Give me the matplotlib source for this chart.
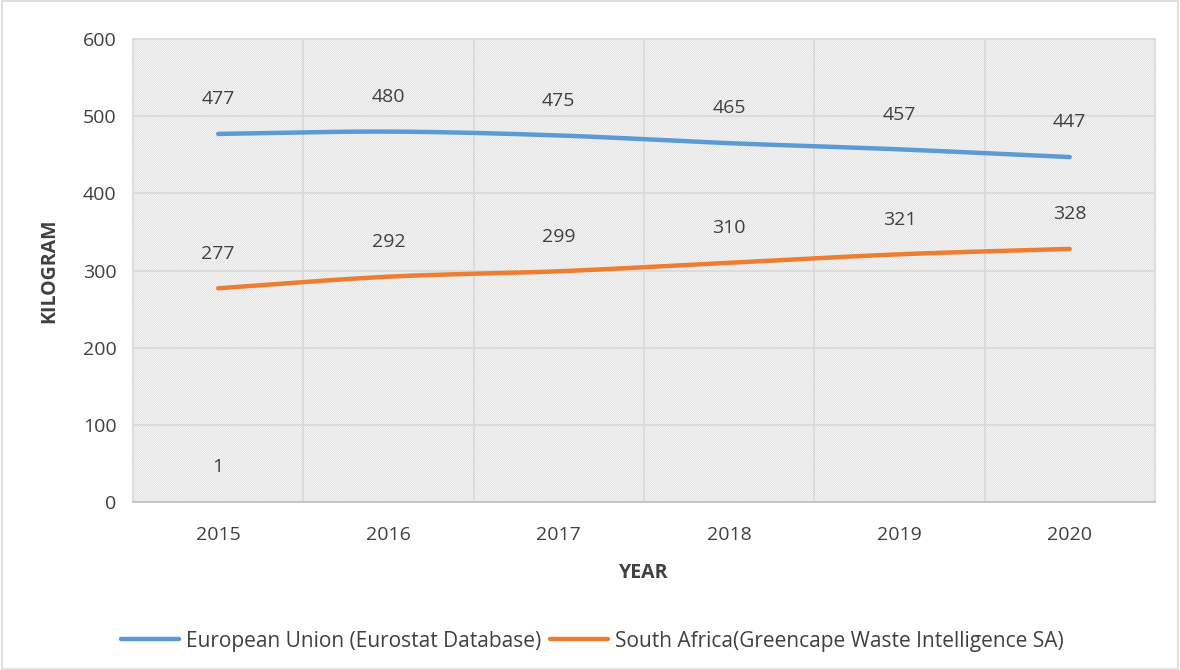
import numpy as np
import matplotlib
matplotlib.use("Agg")
import matplotlib.pyplot as plt
from matplotlib.patches import Rectangle
from matplotlib.lines import Line2D

years = ["2015", "2016", "2017", "2018", "2019", "2020"]
eu_kg = [477, 480, 475, 465, 457, 447]
sa_kg = [277, 292, 299, 310, 321, 328]
# stray data label left in the first column of the source sheet
extra_kg = [1]

eu_name = "European Union (Eurostat Database)"
sa_name = "South Africa(Greencape Waste Intelligence SA)"

plt.rcParams["font.family"] = ["Open Sans", "DejaVu Sans"]
plt.rcParams["hatch.linewidth"] = 0.6
plt.rcParams["hatch.color"] = "#dcdcdc"
txt = "#404040"
grid = "#d9d9d9"


def smooth(y, steps=30):
    # catmull-rom through the points, like a spreadsheet "smoothed line"
    y = np.asarray(y, dtype=float)
    x = np.arange(len(y), dtype=float)
    p = np.concatenate([[2 * y[0] - y[1]], y, [2 * y[-1] - y[-2]]])
    xs, ys = [], []
    for i in range(len(y) - 1):
        t = np.linspace(0, 1, steps, endpoint=(i == len(y) - 2))
        p0, p1, p2, p3 = p[i], p[i + 1], p[i + 2], p[i + 3]
        seg = 0.5 * ((2 * p1) + (-p0 + p2) * t + (2 * p0 - 5 * p1 + 4 * p2 - p3) * t ** 2
                     + (-p0 + 3 * p1 - 3 * p2 + p3) * t ** 3)
        xs.append(x[i] + t)
        ys.append(seg)
    return np.concatenate(xs), np.concatenate(ys)


fig = plt.figure(figsize=(11.8, 6.7), dpi=100)
fig.patches.append(Rectangle((0.002, 0.002), 0.996, 0.996, transform=fig.transFigure,
                             fill=False, edgecolor=grid, linewidth=1.2))
ax = fig.add_axes([0.1127, 0.2507, 0.866, 0.6911])

ax.add_patch(Rectangle((0, 0), 1, 1, transform=ax.transAxes, facecolor="white",
                       hatch="\\" * 15, edgecolor="#dcdcdc", linewidth=0, zorder=0))

x = np.arange(len(years))
ax.set_xlim(-0.5, len(years) - 0.5)
ax.set_ylim(0, 600)
ax.set_yticks(range(0, 601, 100))
ax.set_xticks(x)
ax.set_xticklabels(years)
ax.set_xticks(np.arange(-0.5, len(years)), minor=True)
ax.grid(True, which="major", axis="y", color=grid, linewidth=1.2, zorder=1)
ax.grid(True, which="minor", axis="x", color=grid, linewidth=1.2, zorder=1)
ax.tick_params(axis="both", which="both", length=0, labelsize=14, colors=txt)
ax.tick_params(axis="x", pad=17)
ax.tick_params(axis="y", pad=12)
for s in ax.spines.values():
    s.set_color(grid)
    s.set_linewidth(1.2)
ax.spines["bottom"].set_color("#bfbfbf")

sx, sy = smooth(eu_kg)
ax.plot(sx, sy, color="#5B9BD5", linewidth=3.2, solid_capstyle="round", zorder=3)
sx, sy = smooth(sa_kg)
ax.plot(sx, sy, color="#ED7D31", linewidth=3.2, solid_capstyle="round", zorder=3)

for series in (eu_kg, sa_kg, extra_kg):
    for i, v in enumerate(series):
        ax.annotate(str(v), (x[i], v), xytext=(0, 25), textcoords="offset points",
                    ha="center", va="center", fontsize=14, color=txt, zorder=4)

ax.set_xlabel("YEAR", fontsize=14, fontweight="bold", color=txt, labelpad=14)
ax.set_ylabel("KILOGRAM", fontsize=14, fontweight="bold", color=txt, labelpad=17)

handles = [Line2D([], [], color="#5B9BD5", linewidth=3.2, solid_capstyle="round"),
           Line2D([], [], color="#ED7D31", linewidth=3.2, solid_capstyle="round")]
fig.legend(handles, [eu_name, sa_name], loc="center", bbox_to_anchor=(0.502, 0.043),
           ncol=2, frameon=False, fontsize=15, labelcolor=txt, handlelength=2.8,
           handletextpad=0.35, columnspacing=0.4)

fig.savefig("out.png", dpi=100)
